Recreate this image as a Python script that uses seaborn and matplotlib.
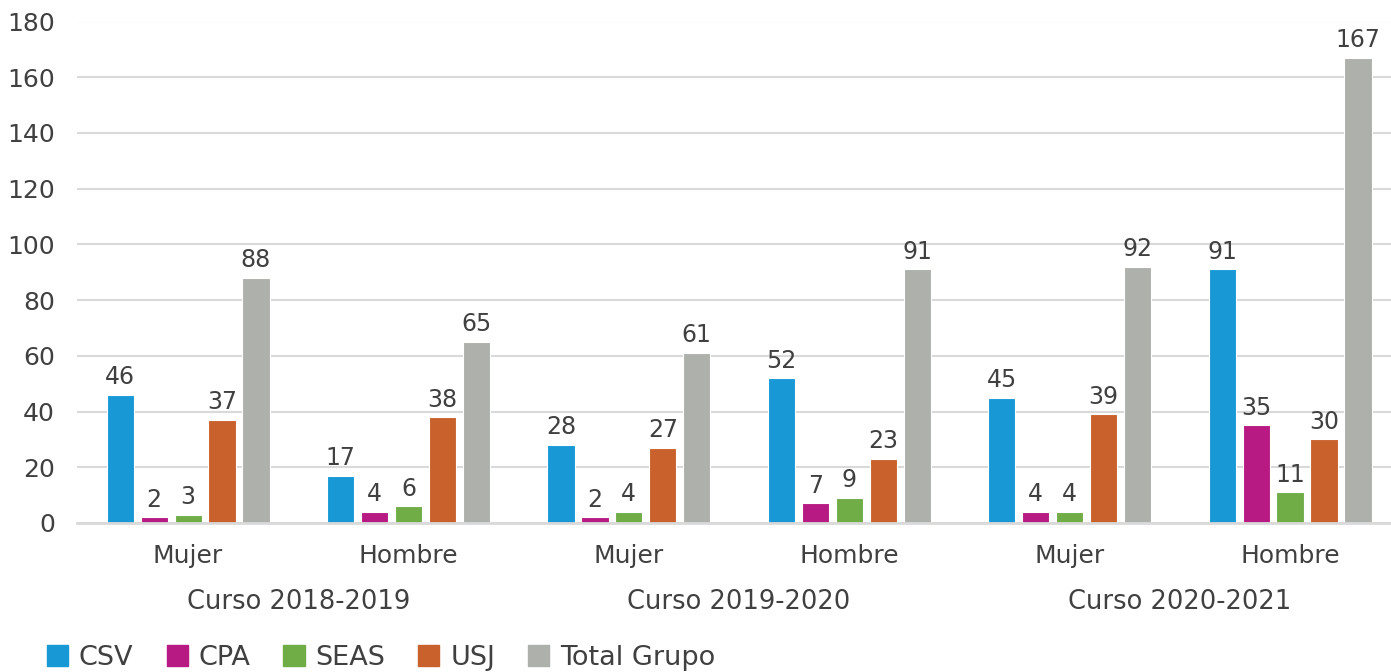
import pandas as pd
import seaborn as sns
import matplotlib.pyplot as plt
import matplotlib.transforms as mtransforms

# Data
cursos = ["Curso 2018-2019", "Curso 2019-2020", "Curso 2020-2021"]
sexos = ["Mujer", "Hombre"]
series = ["CSV", "CPA", "SEAS", "USJ", "Total Grupo"]
csv = [46, 17, 28, 52, 45, 91]
cpa = [2, 4, 2, 7, 4, 35]
seas = [3, 6, 4, 9, 4, 11]
usj = [37, 38, 27, 23, 39, 30]
total = [88, 65, 61, 91, 92, 167]

colors = ["#1899d6", "#b81a83", "#70ad47", "#c9612c", "#adb0ab"]

grupos = [f"{c} {s}" for c in cursos for s in sexos]
rows = []
for name, vals in zip(series, [csv, cpa, seas, usj, total]):
    for g, v in zip(grupos, vals):
        rows.append({"Grupo": g, "Serie": name, "Valor": v})
df = pd.DataFrame(rows)

sns.set_theme(style="white")
plt.rcParams["font.family"] = ["DejaVu Sans"]
text_color = "#404040"

fig = plt.figure(figsize=(13.91, 6.72), dpi=100)
ax = fig.add_axes([77 / 1391, 1 - 523 / 672, 1 - 77 / 1391, (523 - 21.5) / 672])

sns.barplot(
    data=df,
    x="Grupo",
    y="Valor",
    hue="Serie",
    order=grupos,
    hue_order=series,
    palette=colors,
    saturation=1,
    width=0.77,
    gap=0.2,
    edgecolor="white",
    linewidth=0.8,
    ax=ax,
    legend=False,
)

for container in ax.containers:
    ax.bar_label(container, padding=4, fontsize=17, color=text_color)

ax.set_ylim(0, 180)
ax.set_yticks(range(0, 181, 20))
ax.set_xlim(-0.504, 5.458)
ax.yaxis.grid(True, color="#d9d9d9", linewidth=1.5)
ax.set_axisbelow(True)
for side in ["left", "right", "top"]:
    ax.spines[side].set_visible(False)
ax.spines["bottom"].set_color("#d9d9d9")
ax.spines["bottom"].set_linewidth(2)

ax.set_xticks(range(len(grupos)))
ax.set_xticklabels([s for c in cursos for s in sexos])
ax.tick_params(axis="x", length=0, pad=15, labelsize=18, labelcolor=text_color)
ax.tick_params(axis="y", length=0, pad=16, labelsize=18, labelcolor=text_color)
ax.set_xlabel("")
ax.set_ylabel("")

trans = mtransforms.blended_transform_factory(ax.transData, fig.transFigure)
for i, c in enumerate(cursos):
    ax.text(2 * i + 0.5, 1 - 602 / 672, c, transform=trans, ha="center",
            va="center", fontsize=18.5, color=text_color)

handles = [plt.Rectangle((0, 0), 1, 1, color=col) for col in colors]
fig.legend(
    handles,
    series,
    loc="center left",
    bbox_to_anchor=(47 / 1391, 1 - 658 / 672),
    ncol=5,
    frameon=False,
    fontsize=19.5,
    borderpad=0,
    borderaxespad=0,
    handlelength=0.78,
    handleheight=0.78,
    handletextpad=0.4,
    columnspacing=1.22,
    labelcolor=text_color,
)

fig.savefig("out.png", dpi=100)
